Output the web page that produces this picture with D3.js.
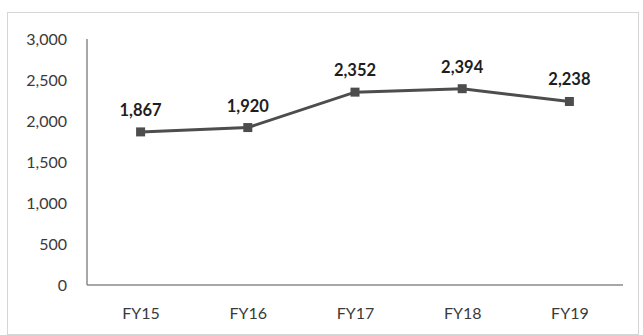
<!DOCTYPE html>
<html>
<head>
<meta charset="utf-8">
<script src="https://cdn.jsdelivr.net/npm/d3@7"></script>
<style>
  html, body { margin: 0; padding: 0; background: #fff; }
  svg { display: block; }
  text { font-family: Lato, "Open Sans", sans-serif; }
</style>
</head>
<body>
<svg id="chart" width="643" height="335"></svg>
<script>
// Annual values by fiscal year
const categories = ["FY15", "FY16", "FY17", "FY18", "FY19"];
const values = [1867, 1920, 2352, 2394, 2238];
const yTicks = [0, 500, 1000, 1500, 2000, 2500, 3000];

const svg = d3.select("#chart");
const W = 643, H = 335;
const plot = { left: 87, right: 623, top: 39, bottom: 285 };

// outer chart frame
svg.append("rect")
  .attr("x", 7.5).attr("y", 12.5)
  .attr("width", 631).attr("height", 322)
  .attr("fill", "#fff")
  .attr("stroke", "#d6d6d6").attr("stroke-width", 1);

const x = d3.scalePoint().domain(categories).range([plot.left, plot.right]).padding(0.5);
const y = d3.scaleLinear().domain([0, 3000]).range([plot.bottom, plot.top]);

// y axis labels
const yAxis = svg.append("g")
  .attr("transform", `translate(${plot.left},0)`)
  .call(d3.axisLeft(y).tickValues(yTicks).tickSize(0).tickPadding(20).tickFormat(d3.format(",")));
yAxis.select(".domain").remove();
yAxis.selectAll("text")
  .attr("fill", "#3a3a3a")
  .style("font-size", "16px")
  .style("font-family", "Lato, 'Open Sans', sans-serif");

// x axis labels
const xAxis = svg.append("g")
  .attr("transform", `translate(0,${plot.bottom})`)
  .call(d3.axisBottom(x).tickSize(0).tickPadding(23));
xAxis.select(".domain").remove();
xAxis.selectAll("text")
  .attr("fill", "#3a3a3a")
  .style("font-size", "16px")
  .style("font-family", "Lato, 'Open Sans', sans-serif");

// axis lines
svg.append("line")
  .attr("x1", plot.left).attr("x2", plot.left)
  .attr("y1", plot.top).attr("y2", plot.bottom)
  .attr("stroke", "#8a8a8a").attr("stroke-width", 1.5);
svg.append("line")
  .attr("x1", plot.left).attr("x2", plot.right)
  .attr("y1", plot.bottom).attr("y2", plot.bottom)
  .attr("stroke", "#8a8a8a").attr("stroke-width", 1.5);

const data = categories.map((c, i) => ({ c, v: values[i] }));

// series line
svg.append("path")
  .datum(data)
  .attr("fill", "none")
  .attr("stroke", "#4d4d4d")
  .attr("stroke-width", 3)
  .attr("d", d3.line().x(d => x(d.c)).y(d => y(d.v)));

// square markers
const ms = 9;
svg.selectAll("rect.marker")
  .data(data)
  .enter().append("rect")
  .attr("class", "marker")
  .attr("x", d => x(d.c) - ms / 2)
  .attr("y", d => y(d.v) - ms / 2)
  .attr("width", ms).attr("height", ms)
  .attr("fill", "#4d4d4d");

// value labels
svg.selectAll("text.value")
  .data(data)
  .enter().append("text")
  .attr("class", "value")
  .attr("x", d => x(d.c))
  .attr("y", d => y(d.v) - 16)
  .attr("text-anchor", "middle")
  .attr("fill", "#1e1e1e")
  .style("font-size", "16.5px")
  .style("font-weight", "700")
  .text(d => d3.format(",")(d.v));
</script>
</body>
</html>
